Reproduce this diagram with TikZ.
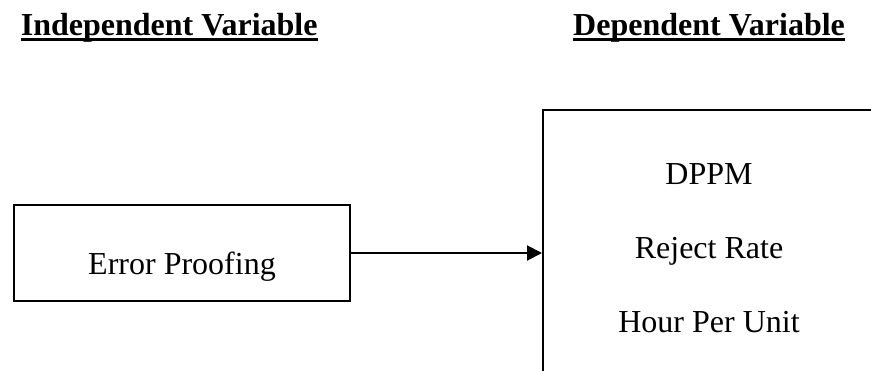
\documentclass[tikz,border=0pt]{standalone}
\usepackage{fontspec}
\setmainfont{Liberation Serif}
\usetikzlibrary{arrows.meta}
\begin{document}
\begin{tikzpicture}[x=1pt,y=-1pt,
  box/.style={draw,line width=2pt,inner sep=0pt},
  txt/.style={inner sep=0pt,anchor=base,font=\fontsize{32}{38}\selectfont},
  heading/.style={inner sep=0pt,anchor=base west,font=\fontsize{32}{38}\selectfont\bfseries},
  uline/.style={line width=2.6pt},
  conn/.style={line width=2pt,-{Triangle[length=15pt,width=15pt]}}]
\useasboundingbox (0,0) rectangle (871,370);
% headings
\node[heading] (h1) at (20.7,35) {Independent Variable};
\node[heading] (h2) at (573,35) {Dependent Variable};
\draw[uline] ([yshift=-4.7pt]h1.base west) -- ([yshift=-4.7pt]h1.base east);
\draw[uline] ([yshift=-4.7pt]h2.base west) -- ([yshift=-4.7pt]h2.base east);
% left box
\node[box,minimum width=336.3pt,minimum height=96pt] (ep) at (182,253) {};
\node[txt] (eptext) at (182,274) {Error Proofing};
% right box (cut off by the picture edge)
\begin{scope}
\clip (0,0) rectangle (871,370);
\node[box,minimum width=334pt,minimum height=300pt,anchor=north west] (dv) at (542,109) {};
\end{scope}
\node[txt] (d1) at (709,184) {DPPM};
\node[txt] (d2) at (709,258) {Reject Rate};
\node[txt] (d3) at (709,332) {Hour Per Unit};
% connector
\draw[conn] (ep.east) -- (ep.east -| dv.west);
\end{tikzpicture}
\end{document}
